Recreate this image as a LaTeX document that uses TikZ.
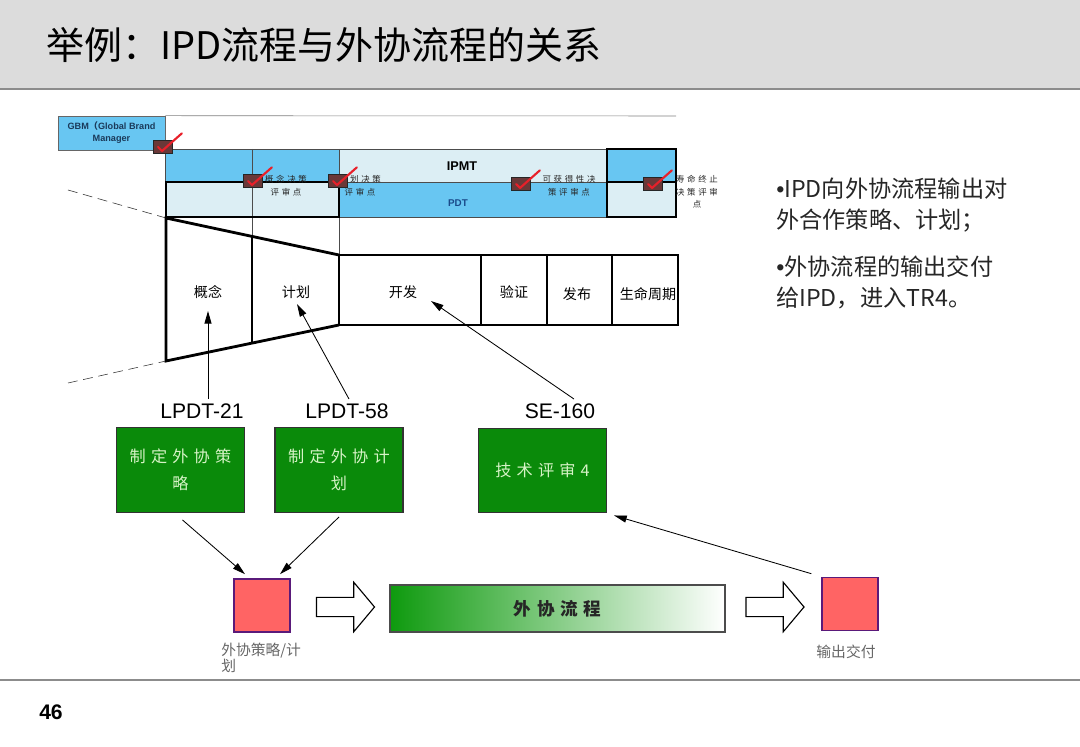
\documentclass[tikz,border=0pt]{standalone}
\usepackage{fontspec}
\setmainfont{Liberation Sans}
\newfontfamily\cjk{Noto Sans CJK SC}
\newfontfamily\cjkspread{Noto Sans CJK SC}[LetterSpace=32]
\usepackage{tikz}
\usetikzlibrary{arrows.meta, positioning, calc, shapes.arrows}
\usepackage{xcolor}
\definecolor{titlegray}{HTML}{DCDCDC}
\definecolor{rulegray}{HTML}{8C8C8C}
\definecolor{ipdblue}{HTML}{68C6F2}
\definecolor{hatchblue}{HTML}{DCEEF4}
\definecolor{markdark}{HTML}{6A3838}
\definecolor{checkred}{HTML}{E8202A}
\definecolor{taskgreen}{HTML}{0A8A0A}
\definecolor{tasktext}{HTML}{D6F3C6}
\definecolor{bargreen}{HTML}{0E9A0E}
\definecolor{outpink}{HTML}{FF6464}
\definecolor{outpurple}{HTML}{5A1A7A}
\definecolor{pdtnavy}{HTML}{1A4A8A}
\definecolor{gbmnavy}{HTML}{1B3A5A}
\definecolor{notegray}{HTML}{666666}

\begin{document}
\begin{tikzpicture}[
    x=0.025cm, y=-0.025cm,
    every node/.style={inner sep=0pt},
    stageline/.style={line width=2pt, line join=miter},
    stagetext/.style={font=\cjk\fontsize{10}{12}\selectfont},
    marklabel/.style={font=\cjkspread\fontsize{6}{9}\selectfont, align=center, text=black!85},
    markbox/.style={draw=black!85, fill=markdark, minimum width=0.48cm, minimum height=0.32cm},
    codelabel/.style={font=\fontsize{15}{18}\selectfont, inner sep=3pt},
    taskbox/.style={draw=black!80, line width=0.8pt, fill=taskgreen, text=tasktext, font=\cjkspread\fontsize{11.5}{19}\selectfont, align=center, minimum width=3.2cm, minimum height=2.12cm},
    outbox/.style={draw=outpurple, line width=1pt, fill=outpink, minimum width=1.4cm, minimum height=1.33cm},
    blockarrow/.style={draw=black, line width=0.8pt, fill=white, single arrow, inner sep=0.225cm, single arrow head extend=0.38cm, single arrow tip angle=100, minimum height=1.45cm},
    flowarrow/.style={-{Triangle[length=9pt,width=5pt]}, line width=0.6pt},
    notetext/.style={font=\cjk\fontsize{10.5}{11.5}\selectfont, text=notegray, align=left}
]
    \useasboundingbox (0,0) rectangle (1080,747);

    % title band
    \fill[titlegray] (0,0) rectangle (1080,88);
    \draw[rulegray, line width=2pt] (0,89) -- (1080,89);
    \node[anchor=west, font=\cjk\fontsize{27}{30}\selectfont] (title) at (46,45) {举例：IPD流程与外协流程的关系};

    % footer
    \draw[rulegray, line width=1.2pt] (0,680) -- (1080,680);
    \node[font=\bfseries\fontsize{15}{18}\selectfont] (page) at (51,712) {46};

    % GBM and review rows
    \node[draw=black!60, fill=ipdblue, minimum width=2.675cm, minimum height=0.85cm, align=center, font=\bfseries\fontsize{6.5}{8.5}\selectfont, text=gbmnavy] (gbm) at (111.5,133) {GBM{\cjk （}Global Brand\\Manager};
    \draw[black!50] (gbm.north east) -- (676,116);

    \fill[ipdblue] (165,149) rectangle (339,182);
    \fill[hatchblue] (339,149) rectangle (607,182);
    \fill[ipdblue] (607,149) rectangle (676,182);
    \fill[hatchblue] (165,182) rectangle (339,217);
    \fill[ipdblue] (339,182) rectangle (607,217);
    \fill[hatchblue] (607,182) rectangle (676,217);
    \draw[black!70] (165,149) rectangle (676,217);
    \draw[black!70] (339,182) -- (607,182);
    \draw[black!70] (252,149) -- (252,237);
    \draw[black!70] (339,149) -- (339,255);
    \draw[line width=1.4pt] (166,182) rectangle (339,217);
    \draw[line width=1pt] (607,149) rectangle (676,217);
    \draw[line width=1pt] (607,182) -- (676,182);

    \node[font=\bfseries\fontsize{9}{11}\selectfont] (ipmt) at (462,166) {IPMT};
    \node[font=\bfseries\fontsize{7}{9}\selectfont, text=pdtnavy] (pdt) at (458,203) {PDT};

    % review point labels
    \node[marklabel] (cdcp) at (286,186) {概念决策\\评审点};
    \node[marklabel] (pdcp) at (360,186) {计划决策\\评审点};
    \node[marklabel] (adcp) at (569,186) {可获得性决\\策评审点};
    \node[marklabel] (ldcp) at (697,192) {寿命终止\\决策评审\\点};

    % review point markers
    \foreach \n/\px/\py in {mgbm/163/147, mcdcp/253/181, mpdcp/338/181, madcp/521/184, mldcp/653/184}{
        \node[markbox] (\n) at (\px,\py) {};
        \draw[checkred, line width=1.5pt, line cap=round, line join=round] ($(\n.center)+(-5,0)$) -- ($(\n.center)+(-1,4)$) -- ($(\n.north east)+(9,-7)$);
    }

    % IPD stages
    \draw[dashed, dash pattern=on 7pt off 4pt, black!80] (68,190) -- (166,218);
    \draw[dashed, dash pattern=on 7pt off 4pt, black!80] (68,383) -- (166,361);
    \draw[stageline] (339,255) -- (166,218) -- (166,361) -- (339,325);
    \draw[stageline] (252,236) -- (252,343);
    \draw[stageline] (339,255) rectangle (678,325);
    \foreach \sx in {481,547,612}
        \draw[stageline] (\sx,255) -- (\sx,325);

    \node[stagetext] (gainian) at (208,292) {概念};
    \node[stagetext] (jihua) at (296,292) {计划};
    \node[stagetext] (kaifa) at (403,292) {开发};
    \node[stagetext] (yanzheng) at (514,292) {验证};
    \node[stagetext] (fabu) at (577,294) {发布};
    \node[stagetext] (shengming) at (648,294) {生命周期};

    \coordinate (gainiantip) at (208,311);
    \coordinate (jihuatip) at (297,304);
    \coordinate (kaifatip) at (431,301);

    % outsourcing tasks
    \node[codelabel] (lpdt21) at (202,411) {LPDT-21};
    \node[codelabel] (lpdt58) at (347,411) {LPDT-58};
    \node[codelabel] (se160) at (560,411) {SE-160};

    \node[taskbox] (strategy) at (180.5,470) {制定外协策\\略};
    \node[taskbox] (plan) at (339,470) {制定外协计\\划};
    \node[taskbox] (tr4) at (542.5,470.5) {技术评审4};

    \draw[flowarrow] (lpdt21.north -| gainiantip) -- (gainiantip);
    \draw[flowarrow] ($(lpdt58.north)+(2,0)$) -- (jihuatip);
    \draw[flowarrow] ($(se160.north)+(14,0)$) -- (kaifatip);

    % outsourcing flow
    \node[outbox] (stratout) at (262,605.5) {};
    \node[outbox] (deliver) at (850,604) {};
    \node[blockarrow] (arrowin) at (341.5,607) {};
    \node[blockarrow] (arrowout) at (771,607) {};
    \node[draw=black!70, line width=0.8pt, left color=bargreen, middle color=bargreen!50, right color=white, minimum width=8.375cm, minimum height=1.175cm, font=\cjkspread\bfseries\fontsize{12.5}{15}\selectfont, text=black!85] (outflow) at (557.5,608.5) {外协流程};

    \draw[flowarrow] ($(strategy.south)+(2,7)$) -- ($(stratout.north)+(-17,-4)$);
    \draw[flowarrow] ($(plan.south)+(0,4)$) -- ($(stratout.north)+(18,-4)$);
    \draw[flowarrow] ($(deliver.north west)+(-10,-3)$) -- ($(tr4.south east)+(7,2)$);

    \node[notetext, anchor=north west] (stratnote) at (221,643) {外协策略/计\\划};
    \node[notetext] (delivnote) at (846,652) {输出交付};

    % notes
    \node[anchor=north west, align=left, font=\cjk\fontsize{16.5}{22}\selectfont, text=black!85] (note1) at (776,178) {{\normalfont\textbullet}IPD向外协流程输出对\\外合作策略、计划；};
    \node[anchor=north west, align=left, font=\cjk\fontsize{16.5}{22}\selectfont, text=black!85] (note2) at (776,256) {{\normalfont\textbullet}外协流程的输出交付\\给IPD，进入TR4。};
\end{tikzpicture}
\end{document}
